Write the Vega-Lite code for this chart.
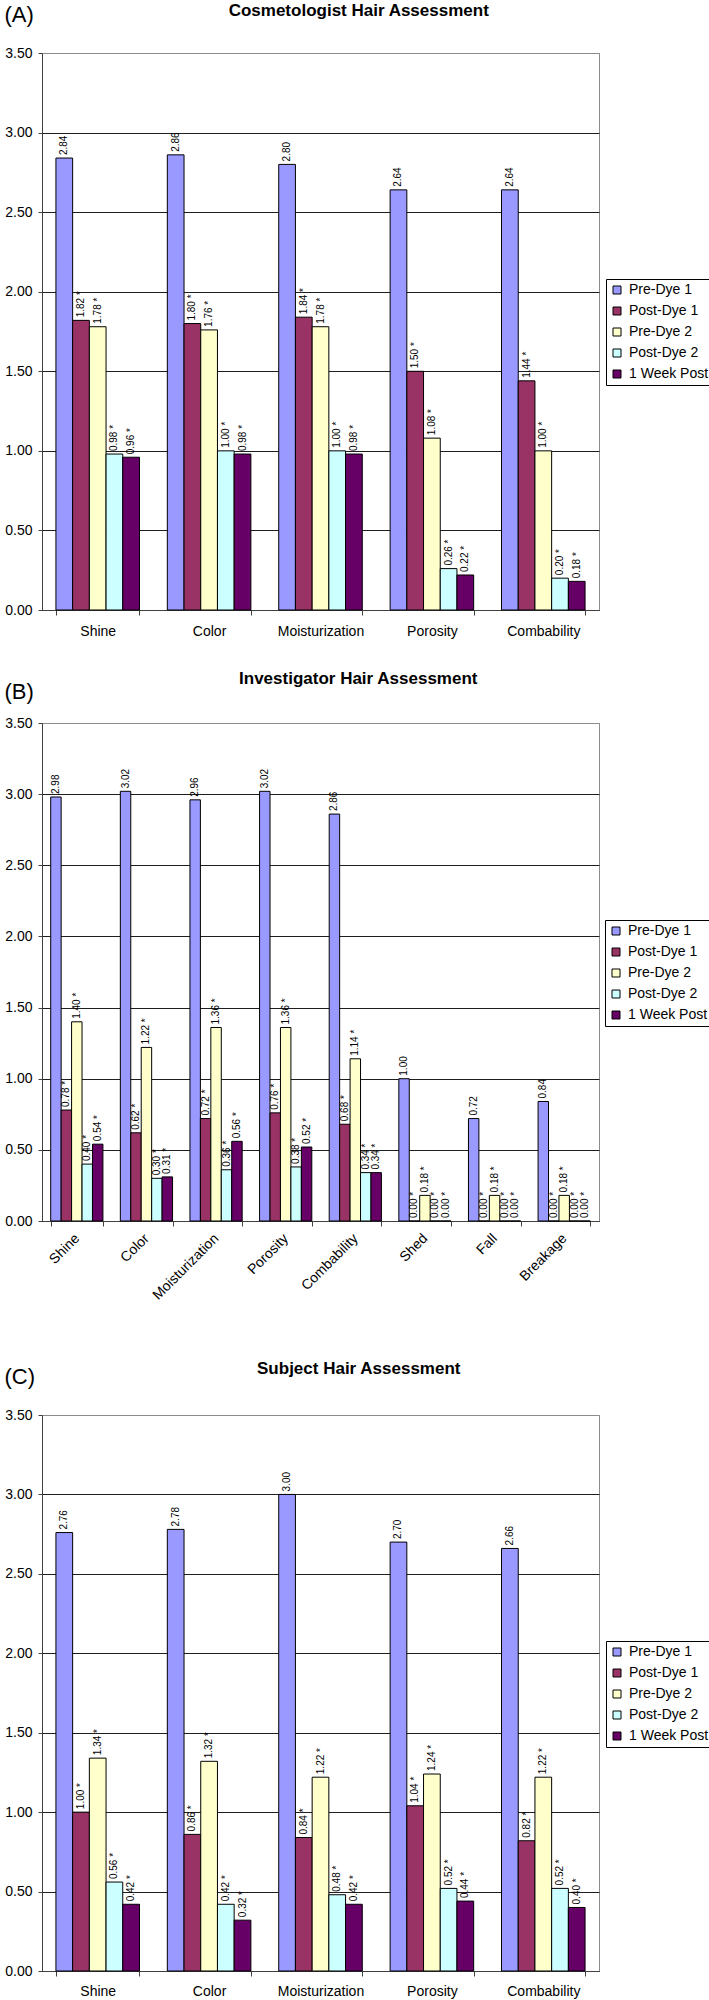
{
  "$schema": "https://vega.github.io/schema/vega-lite/v6.json",
  "padding": {"left": 3, "top": 1, "right": 0, "bottom": 0},
  "background": "white",
  "config": {
    "font": "Liberation Sans",
    "view": {"stroke": "#8c8c8c", "strokeWidth": 1},
    "axis": {"labelFont": "Liberation Sans", "labelFontSize": 14, "labelColor": "#000", "domainColor": "#404040", "tickColor": "#404040", "titleFont": "Liberation Sans", "titleFontWeight": "normal", "titleColor": "#000"},
    "title": {"font": "Liberation Sans", "fontSize": 17, "fontWeight": "bold", "color": "#000", "anchor": "middle", "frame": "bounds", "offset": 0},
    "legend": {"labelFont": "Liberation Sans", "labelFontSize": 14, "labelColor": "#000", "strokeColor": "#000", "fillColor": "white", "padding": 4, "rowPadding": 7, "symbolType": "square", "symbolSize": 64, "symbolStrokeColor": "#000", "symbolStrokeWidth": 1, "labelOffset": 5}
  },
  "datasets": {
    "d": [
      {"p": "A", "cat": "Shine", "s": "Pre-Dye 1", "v": 2.84, "lab": "2.84"},
      {"p": "A", "cat": "Shine", "s": "Post-Dye 1", "v": 1.82, "lab": "1.82 *"},
      {"p": "A", "cat": "Shine", "s": "Pre-Dye 2", "v": 1.78, "lab": "1.78 *"},
      {"p": "A", "cat": "Shine", "s": "Post-Dye 2", "v": 0.98, "lab": "0.98 *"},
      {"p": "A", "cat": "Shine", "s": "1 Week Post", "v": 0.96, "lab": "0.96 *"},
      {"p": "A", "cat": "Color", "s": "Pre-Dye 1", "v": 2.86, "lab": "2.86"},
      {"p": "A", "cat": "Color", "s": "Post-Dye 1", "v": 1.80, "lab": "1.80 *"},
      {"p": "A", "cat": "Color", "s": "Pre-Dye 2", "v": 1.76, "lab": "1.76 *"},
      {"p": "A", "cat": "Color", "s": "Post-Dye 2", "v": 1.00, "lab": "1.00 *"},
      {"p": "A", "cat": "Color", "s": "1 Week Post", "v": 0.98, "lab": "0.98 *"},
      {"p": "A", "cat": "Moisturization", "s": "Pre-Dye 1", "v": 2.80, "lab": "2.80"},
      {"p": "A", "cat": "Moisturization", "s": "Post-Dye 1", "v": 1.84, "lab": "1.84 *"},
      {"p": "A", "cat": "Moisturization", "s": "Pre-Dye 2", "v": 1.78, "lab": "1.78 *"},
      {"p": "A", "cat": "Moisturization", "s": "Post-Dye 2", "v": 1.00, "lab": "1.00 *"},
      {"p": "A", "cat": "Moisturization", "s": "1 Week Post", "v": 0.98, "lab": "0.98 *"},
      {"p": "A", "cat": "Porosity", "s": "Pre-Dye 1", "v": 2.64, "lab": "2.64"},
      {"p": "A", "cat": "Porosity", "s": "Post-Dye 1", "v": 1.50, "lab": "1.50 *"},
      {"p": "A", "cat": "Porosity", "s": "Pre-Dye 2", "v": 1.08, "lab": "1.08 *"},
      {"p": "A", "cat": "Porosity", "s": "Post-Dye 2", "v": 0.26, "lab": "0.26 *"},
      {"p": "A", "cat": "Porosity", "s": "1 Week Post", "v": 0.22, "lab": "0.22 *"},
      {"p": "A", "cat": "Combability", "s": "Pre-Dye 1", "v": 2.64, "lab": "2.64"},
      {"p": "A", "cat": "Combability", "s": "Post-Dye 1", "v": 1.44, "lab": "1.44 *"},
      {"p": "A", "cat": "Combability", "s": "Pre-Dye 2", "v": 1.00, "lab": "1.00 *"},
      {"p": "A", "cat": "Combability", "s": "Post-Dye 2", "v": 0.20, "lab": "0.20 *"},
      {"p": "A", "cat": "Combability", "s": "1 Week Post", "v": 0.18, "lab": "0.18 *"},

      {"p": "B", "cat": "Shine", "s": "Pre-Dye 1", "v": 2.98, "lab": "2.98"},
      {"p": "B", "cat": "Shine", "s": "Post-Dye 1", "v": 0.78, "lab": "0.78 *"},
      {"p": "B", "cat": "Shine", "s": "Pre-Dye 2", "v": 1.40, "lab": "1.40 *"},
      {"p": "B", "cat": "Shine", "s": "Post-Dye 2", "v": 0.40, "lab": "0.40 *"},
      {"p": "B", "cat": "Shine", "s": "1 Week Post", "v": 0.54, "lab": "0.54 *"},
      {"p": "B", "cat": "Color", "s": "Pre-Dye 1", "v": 3.02, "lab": "3.02"},
      {"p": "B", "cat": "Color", "s": "Post-Dye 1", "v": 0.62, "lab": "0.62 *"},
      {"p": "B", "cat": "Color", "s": "Pre-Dye 2", "v": 1.22, "lab": "1.22 *"},
      {"p": "B", "cat": "Color", "s": "Post-Dye 2", "v": 0.30, "lab": "0.30 *"},
      {"p": "B", "cat": "Color", "s": "1 Week Post", "v": 0.31, "lab": "0.31 *"},
      {"p": "B", "cat": "Moisturization", "s": "Pre-Dye 1", "v": 2.96, "lab": "2.96"},
      {"p": "B", "cat": "Moisturization", "s": "Post-Dye 1", "v": 0.72, "lab": "0.72 *"},
      {"p": "B", "cat": "Moisturization", "s": "Pre-Dye 2", "v": 1.36, "lab": "1.36 *"},
      {"p": "B", "cat": "Moisturization", "s": "Post-Dye 2", "v": 0.36, "lab": "0.36 *"},
      {"p": "B", "cat": "Moisturization", "s": "1 Week Post", "v": 0.56, "lab": "0.56 *"},
      {"p": "B", "cat": "Porosity", "s": "Pre-Dye 1", "v": 3.02, "lab": "3.02"},
      {"p": "B", "cat": "Porosity", "s": "Post-Dye 1", "v": 0.76, "lab": "0.76 *"},
      {"p": "B", "cat": "Porosity", "s": "Pre-Dye 2", "v": 1.36, "lab": "1.36 *"},
      {"p": "B", "cat": "Porosity", "s": "Post-Dye 2", "v": 0.38, "lab": "0.38 *"},
      {"p": "B", "cat": "Porosity", "s": "1 Week Post", "v": 0.52, "lab": "0.52 *"},
      {"p": "B", "cat": "Combability", "s": "Pre-Dye 1", "v": 2.86, "lab": "2.86"},
      {"p": "B", "cat": "Combability", "s": "Post-Dye 1", "v": 0.68, "lab": "0.68 *"},
      {"p": "B", "cat": "Combability", "s": "Pre-Dye 2", "v": 1.14, "lab": "1.14 *"},
      {"p": "B", "cat": "Combability", "s": "Post-Dye 2", "v": 0.34, "lab": "0.34 *"},
      {"p": "B", "cat": "Combability", "s": "1 Week Post", "v": 0.34, "lab": "0.34 *"},
      {"p": "B", "cat": "Shed", "s": "Pre-Dye 1", "v": 1.00, "lab": "1.00"},
      {"p": "B", "cat": "Shed", "s": "Post-Dye 1", "v": 0.00, "lab": "0.00 *"},
      {"p": "B", "cat": "Shed", "s": "Pre-Dye 2", "v": 0.18, "lab": "0.18 *"},
      {"p": "B", "cat": "Shed", "s": "Post-Dye 2", "v": 0.00, "lab": "0.00 *"},
      {"p": "B", "cat": "Shed", "s": "1 Week Post", "v": 0.00, "lab": "0.00 *"},
      {"p": "B", "cat": "Fall", "s": "Pre-Dye 1", "v": 0.72, "lab": "0.72"},
      {"p": "B", "cat": "Fall", "s": "Post-Dye 1", "v": 0.00, "lab": "0.00 *"},
      {"p": "B", "cat": "Fall", "s": "Pre-Dye 2", "v": 0.18, "lab": "0.18 *"},
      {"p": "B", "cat": "Fall", "s": "Post-Dye 2", "v": 0.00, "lab": "0.00 *"},
      {"p": "B", "cat": "Fall", "s": "1 Week Post", "v": 0.00, "lab": "0.00 *"},
      {"p": "B", "cat": "Breakage", "s": "Pre-Dye 1", "v": 0.84, "lab": "0.84"},
      {"p": "B", "cat": "Breakage", "s": "Post-Dye 1", "v": 0.00, "lab": "0.00 *"},
      {"p": "B", "cat": "Breakage", "s": "Pre-Dye 2", "v": 0.18, "lab": "0.18 *"},
      {"p": "B", "cat": "Breakage", "s": "Post-Dye 2", "v": 0.00, "lab": "0.00 *"},
      {"p": "B", "cat": "Breakage", "s": "1 Week Post", "v": 0.00, "lab": "0.00 *"},

      {"p": "C", "cat": "Shine", "s": "Pre-Dye 1", "v": 2.76, "lab": "2.76"},
      {"p": "C", "cat": "Shine", "s": "Post-Dye 1", "v": 1.00, "lab": "1.00 *"},
      {"p": "C", "cat": "Shine", "s": "Pre-Dye 2", "v": 1.34, "lab": "1.34 *"},
      {"p": "C", "cat": "Shine", "s": "Post-Dye 2", "v": 0.56, "lab": "0.56 *"},
      {"p": "C", "cat": "Shine", "s": "1 Week Post", "v": 0.42, "lab": "0.42 *"},
      {"p": "C", "cat": "Color", "s": "Pre-Dye 1", "v": 2.78, "lab": "2.78"},
      {"p": "C", "cat": "Color", "s": "Post-Dye 1", "v": 0.86, "lab": "0.86 *"},
      {"p": "C", "cat": "Color", "s": "Pre-Dye 2", "v": 1.32, "lab": "1.32 *"},
      {"p": "C", "cat": "Color", "s": "Post-Dye 2", "v": 0.42, "lab": "0.42 *"},
      {"p": "C", "cat": "Color", "s": "1 Week Post", "v": 0.32, "lab": "0.32 *"},
      {"p": "C", "cat": "Moisturization", "s": "Pre-Dye 1", "v": 3.00, "lab": "3.00"},
      {"p": "C", "cat": "Moisturization", "s": "Post-Dye 1", "v": 0.84, "lab": "0.84 *"},
      {"p": "C", "cat": "Moisturization", "s": "Pre-Dye 2", "v": 1.22, "lab": "1.22 *"},
      {"p": "C", "cat": "Moisturization", "s": "Post-Dye 2", "v": 0.48, "lab": "0.48 *"},
      {"p": "C", "cat": "Moisturization", "s": "1 Week Post", "v": 0.42, "lab": "0.42 *"},
      {"p": "C", "cat": "Porosity", "s": "Pre-Dye 1", "v": 2.70, "lab": "2.70"},
      {"p": "C", "cat": "Porosity", "s": "Post-Dye 1", "v": 1.04, "lab": "1.04 *"},
      {"p": "C", "cat": "Porosity", "s": "Pre-Dye 2", "v": 1.24, "lab": "1.24 *"},
      {"p": "C", "cat": "Porosity", "s": "Post-Dye 2", "v": 0.52, "lab": "0.52 *"},
      {"p": "C", "cat": "Porosity", "s": "1 Week Post", "v": 0.44, "lab": "0.44 *"},
      {"p": "C", "cat": "Combability", "s": "Pre-Dye 1", "v": 2.66, "lab": "2.66"},
      {"p": "C", "cat": "Combability", "s": "Post-Dye 1", "v": 0.82, "lab": "0.82 *"},
      {"p": "C", "cat": "Combability", "s": "Pre-Dye 2", "v": 1.22, "lab": "1.22 *"},
      {"p": "C", "cat": "Combability", "s": "Post-Dye 2", "v": 0.52, "lab": "0.52 *"},
      {"p": "C", "cat": "Combability", "s": "1 Week Post", "v": 0.40, "lab": "0.40 *"}
    ]
  },
  "resolve": {"scale": {"x": "independent", "y": "independent", "xOffset": "independent", "color": "independent"}, "legend": {"color": "independent"}, "axis": {"x": "independent", "y": "independent"}},
  "spacing": 30,
  "vconcat": [
    {
      "title": {"text": "Cosmetologist Hair Assessment", "dy": 21},
      "width": 557, "height": 557,
      "data": {"name": "d"},
      "transform": [{"filter": "datum.p === 'A'"}],
      "encoding": {
        "x": {"field": "cat", "type": "nominal", "sort": null, "scale": {"paddingInner": 0.25, "paddingOuter": 0.125},
              "axis": {"title": null, "labelAngle": 0, "tickBand": "extent", "tickSize": 5, "labelPadding": 9}},
        "xOffset": {"field": "s", "type": "nominal", "sort": null, "scale": {"paddingInner": 0, "paddingOuter": 0}},
        "y": {"field": "v", "type": "quantitative", "scale": {"domain": [0, 3.5], "nice": false},
              "axis": {"title": "(A)", "values": [0, 0.5, 1, 1.5, 2, 2.5, 3, 3.5], "format": ".2f", "tickSize": 4, "labelPadding": 6, "grid": true,
                       "gridColor": {"condition": {"test": "datum.value >= 3.5", "value": "#8c8c8c"}, "value": "#1e1e1e"},
                       "titleAngle": 0, "titleAlign": "left", "titleBaseline": "middle", "titleX": -38, "titleY": -39, "titleFontSize": 22}}
      },
      "layer": [
        {"mark": {"type": "bar", "stroke": "#000", "strokeWidth": 1},
         "encoding": {"color": {"field": "s", "type": "nominal", "sort": null,
           "scale": {"domain": ["Pre-Dye 1", "Post-Dye 1", "Pre-Dye 2", "Post-Dye 2", "1 Week Post"], "range": ["#9999FF", "#993366", "#FFFFCC", "#CCFFFF", "#660066"]},
           "legend": {"orient": "none", "legendX": 564, "legendY": 226, "title": null}}}},
        {"mark": {"type": "text", "angle": 270, "align": "left", "baseline": "middle", "dx": 3, "font": "Liberation Sans Narrow, Liberation Sans, sans-serif", "fontSize": 10, "color": "#000"},
         "encoding": {"text": {"field": "lab"}}}
      ]
    },
    {
      "spacing": 56,
      "resolve": {"scale": {"x": "independent", "y": "independent", "xOffset": "independent", "color": "independent"}, "legend": {"color": "independent"}, "axis": {"x": "independent", "y": "independent"}},
      "vconcat": [
        {
          "title": {"text": "Investigator Hair Assessment", "dy": 12},
          "width": 557, "height": 498,
          "data": {"name": "d"},
          "transform": [{"filter": "datum.p === 'B'"}],
          "encoding": {
            "x": {"field": "cat", "type": "nominal", "sort": null, "scale": {"paddingInner": 0.25, "paddingOuter": 0.125},
                  "axis": {"title": null, "labelAngle": -45, "labelAlign": "right", "labelBaseline": "middle", "tickBand": "extent", "tickSize": 5, "labelPadding": 10}},
            "xOffset": {"field": "s", "type": "nominal", "sort": null, "scale": {"paddingInner": 0, "paddingOuter": 0}},
            "y": {"field": "v", "type": "quantitative", "scale": {"domain": [0, 3.5], "nice": false},
                  "axis": {"title": "(B)", "values": [0, 0.5, 1, 1.5, 2, 2.5, 3, 3.5], "format": ".2f", "tickSize": 4, "labelPadding": 6, "grid": true,
                           "gridColor": {"condition": {"test": "datum.value >= 3.5", "value": "#8c8c8c"}, "value": "#1e1e1e"},
                           "titleAngle": 0, "titleAlign": "left", "titleBaseline": "middle", "titleX": -38, "titleY": -32, "titleFontSize": 22}}
          },
          "layer": [
            {"mark": {"type": "bar", "stroke": "#000", "strokeWidth": 1},
             "encoding": {"color": {"field": "s", "type": "nominal", "sort": null,
               "scale": {"domain": ["Pre-Dye 1", "Post-Dye 1", "Pre-Dye 2", "Post-Dye 2", "1 Week Post"], "range": ["#9999FF", "#993366", "#FFFFCC", "#CCFFFF", "#660066"]},
               "legend": {"orient": "none", "legendX": 563, "legendY": 197, "title": null}}}},
            {"mark": {"type": "text", "angle": 270, "align": "left", "baseline": "middle", "dx": 3, "font": "Liberation Sans Narrow, Liberation Sans, sans-serif", "fontSize": 10, "color": "#000"},
             "encoding": {"text": {"field": "lab"}}}
          ]
        },
        {
          "title": {"text": "Subject Hair Assessment", "dy": 17},
          "width": 557, "height": 556,
          "data": {"name": "d"},
          "transform": [{"filter": "datum.p === 'C'"}],
          "encoding": {
            "x": {"field": "cat", "type": "nominal", "sort": null, "scale": {"paddingInner": 0.25, "paddingOuter": 0.125},
                  "axis": {"title": null, "labelAngle": 0, "tickBand": "extent", "tickSize": 5, "labelPadding": 8}},
            "xOffset": {"field": "s", "type": "nominal", "sort": null, "scale": {"paddingInner": 0, "paddingOuter": 0}},
            "y": {"field": "v", "type": "quantitative", "scale": {"domain": [0, 3.5], "nice": false},
                  "axis": {"title": "(C)", "values": [0, 0.5, 1, 1.5, 2, 2.5, 3, 3.5], "format": ".2f", "tickSize": 4, "labelPadding": 6, "grid": true,
                           "gridColor": {"condition": {"test": "datum.value >= 3.5", "value": "#8c8c8c"}, "value": "#1e1e1e"},
                           "titleAngle": 0, "titleAlign": "left", "titleBaseline": "middle", "titleX": -38, "titleY": -39, "titleFontSize": 22}}
          },
          "layer": [
            {"mark": {"type": "bar", "stroke": "#000", "strokeWidth": 1},
             "encoding": {"color": {"field": "s", "type": "nominal", "sort": null,
               "scale": {"domain": ["Pre-Dye 1", "Post-Dye 1", "Pre-Dye 2", "Post-Dye 2", "1 Week Post"], "range": ["#9999FF", "#993366", "#FFFFCC", "#CCFFFF", "#660066"]},
               "legend": {"orient": "none", "legendX": 564, "legendY": 226, "title": null}}}},
            {"mark": {"type": "text", "angle": 270, "align": "left", "baseline": "middle", "dx": 3, "font": "Liberation Sans Narrow, Liberation Sans, sans-serif", "fontSize": 10, "color": "#000"},
             "encoding": {"text": {"field": "lab"}}}
          ]
        }
      ]
    }
  ]
}
